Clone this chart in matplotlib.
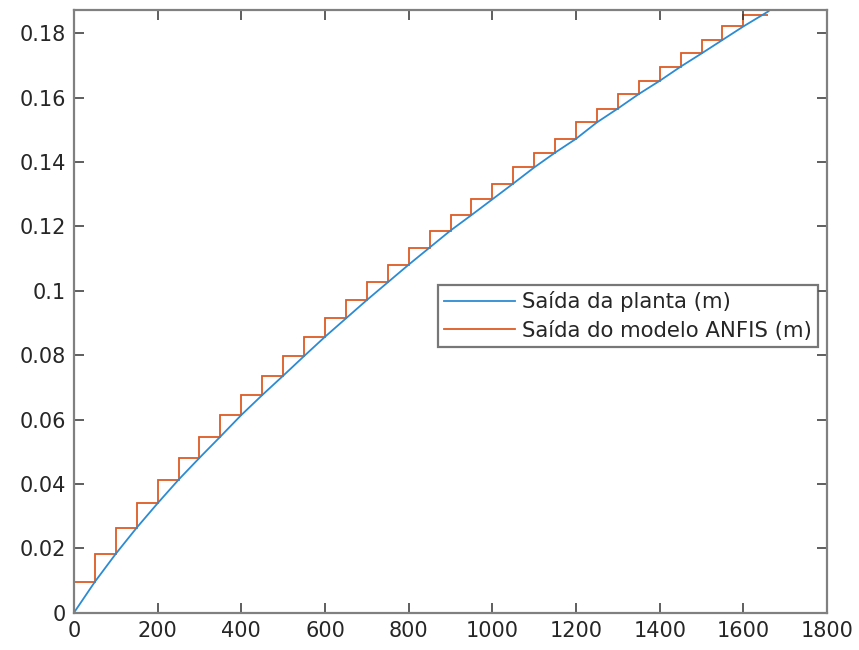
import matplotlib
matplotlib.use("Agg")
import matplotlib.pyplot as plt
import numpy as np

# tempo / amostras (eixo x)
bordas = [0, 50, 100, 150, 200, 250, 300, 350, 400, 450, 500, 550, 600, 650,
          700, 750, 800, 850, 900, 950, 1000, 1050, 1100, 1150, 1200, 1250,
          1300, 1350, 1400, 1450, 1500, 1550, 1600, 1660]

# saída do modelo ANFIS (degraus, um por intervalo)
anfis = [0.0096, 0.0183, 0.0264, 0.0340, 0.0413, 0.0481, 0.0547, 0.0614,
         0.0676, 0.0736, 0.0797, 0.0857, 0.0914, 0.0971, 0.1026, 0.1081,
         0.1134, 0.1187, 0.1235, 0.1284, 0.1333, 0.1383, 0.1429, 0.1472,
         0.1523, 0.1566, 0.1611, 0.1652, 0.1696, 0.1737, 0.1779, 0.1821,
         0.1858]

# saída da planta nos mesmos instantes
planta = [0.0, 0.0096, 0.0183, 0.0264, 0.0340, 0.0413, 0.0481, 0.0547, 0.0614,
          0.0676, 0.0736, 0.0797, 0.0857, 0.0914, 0.0971, 0.1026, 0.1081,
          0.1134, 0.1187, 0.1235, 0.1284, 0.1333, 0.1383, 0.1429, 0.1472,
          0.1523, 0.1566, 0.1611, 0.1652, 0.1696, 0.1737, 0.1779, 0.1821,
          0.1868]

azul = "#2C8BD3"
laranja = "#DD5C24"
cinza = "#808080"

fig = plt.figure(figsize=(8.59, 6.5), dpi=100)
ax = fig.add_axes([0.0861, 0.0574, 0.8767, 0.9272])

ax.plot(bordas, planta, color=azul, lw=1.3, label="Saída da planta (m)")
ax.stairs(anfis, bordas, baseline=None, color=laranja, lw=1.3,
          label="Saída do modelo ANFIS (m)")

ax.set_xlim(0, 1800)
ax.set_ylim(0, 0.1872)
ax.set_xticks(np.arange(0, 1801, 200))
ax.set_yticks(np.arange(0, 0.181, 0.02))
ax.set_yticklabels(["0", "0.02", "0.04", "0.06", "0.08", "0.1", "0.12",
                    "0.14", "0.16", "0.18"])

for s in ax.spines.values():
    s.set_color(cinza)
    s.set_linewidth(1.6)
ax.tick_params(direction="in", length=7, width=1.1, color="#333333",
               top=True, right=True, labelsize=15, labelcolor="#262626",
               pad=6)

leg = ax.legend(loc="upper left", bbox_to_anchor=(0.4834, 0.5437),
                fontsize=15.3, frameon=True, fancybox=False, handlelength=3.3,
                handletextpad=0.35, labelspacing=0.4, borderpad=0.3,
                borderaxespad=0)
leg.get_frame().set_edgecolor("#555555")
leg.get_frame().set_linewidth(1.6)
for t in leg.get_texts():
    t.set_color("#262626")

fig.savefig("out.png", dpi=100, facecolor="white")
